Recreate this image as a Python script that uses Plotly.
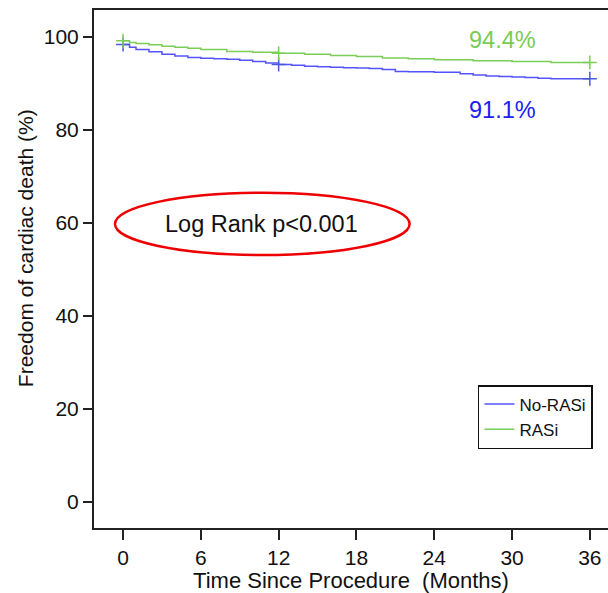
import plotly.graph_objects as go

# Data
months_no = [0, 0.5, 1, 2, 3, 4, 5, 6, 7, 8, 9, 10, 11, 12, 13, 14, 15, 16, 17, 18,
             19, 20, 21, 22, 24, 26, 27, 28, 29, 30, 31, 32, 33, 34, 36]
surv_no = [98.4, 97.8, 97.3, 96.8, 96.3, 95.9, 95.6, 95.4, 95.3, 95.2, 95.0, 94.7, 94.4, 94.1,
           93.9, 93.7, 93.6, 93.5, 93.4, 93.3, 93.2, 93.0, 92.6, 92.5, 92.4, 92.1, 91.8, 91.6,
           91.5, 91.4, 91.3, 91.1, 91.0, 91.0, 91.0]
months_ras = [0, 0.5, 1, 2, 3, 4, 5, 6, 8, 10, 12, 14, 16, 18, 20, 22, 24, 27, 30, 33, 36]
surv_ras = [99.2, 98.8, 98.6, 98.3, 98.0, 97.8, 97.6, 97.3, 96.9, 96.7, 96.5, 96.3, 96.0,
            95.8, 95.5, 95.3, 95.1, 94.9, 94.7, 94.5, 94.5]
censor_times = [0, 12, 36]
x_ticks = [0, 6, 12, 18, 24, 30, 36]
y_ticks = [0, 20, 40, 60, 80, 100]
end_labels = ["94.4%", "91.1%"]

def lookup(ts, vs, t):
    idx = max(i for i, tt in enumerate(ts) if tt <= t)
    return vs[idx]

BLUE_LINE = "#4a5ad4"
GREEN_LINE = "#7ccd58"
BLUE_TXT = "#2020f0"
GREEN_TXT = "#78cc55"
LEG_BLUE = "#2a2aff"

fig = go.Figure()
fig.add_trace(go.Scatter(x=months_no, y=surv_no, mode="lines", line=dict(color=LEG_BLUE, width=1.5, shape="hv"),
                         name="No-RASi", showlegend=True, opacity=0.8))
fig.add_trace(go.Scatter(x=months_ras, y=surv_ras, mode="lines", line=dict(color=GREEN_LINE, width=1.5, shape="hv"),
                         name="RASi", showlegend=True))
fig.add_trace(go.Scatter(x=censor_times, y=[lookup(months_no, surv_no, t) for t in censor_times], mode="markers",
                         marker=dict(symbol="cross-thin", size=10, line=dict(color=BLUE_LINE, width=1.5)),
                         showlegend=False, hoverinfo="skip"))
fig.add_trace(go.Scatter(x=censor_times, y=[lookup(months_ras, surv_ras, t) for t in censor_times], mode="markers",
                         marker=dict(symbol="cross-thin", size=10, line=dict(color=GREEN_LINE, width=1.5)),
                         showlegend=False, hoverinfo="skip"))

font_family = "Liberation Sans, Arial, sans-serif"

fig.add_annotation(x=29.3, y=99.4, text=end_labels[0], showarrow=False,
                   font=dict(color=GREEN_TXT, size=23.5, family=font_family))
fig.add_annotation(x=29.3, y=84.3, text=end_labels[1], showarrow=False,
                   font=dict(color=BLUE_TXT, size=23.5, family=font_family))

fig.add_shape(type="circle", xref="x", yref="y", x0=-0.62, x1=22.1, y0=53.1, y1=66.5,
              line=dict(color="#ee0000", width=2.5))
fig.add_annotation(x=10.7, y=59.7, text="Log Rank p<0.001", showarrow=False,
                   font=dict(color="#111111", size=23.5, family=font_family))

# y-axis title placed as rotated text
fig.add_annotation(xref="paper", yref="paper", x=-0.134, y=0.5405, xanchor="center", yanchor="middle",
                   text="Freedom of cardiac death (%)", textangle=-90, showarrow=False,
                   font=dict(color="#111111", size=21, family=font_family))

fig.update_layout(
    width=608, height=593,
    margin=dict(l=94, r=0, t=10, b=65),
    plot_bgcolor="white", paper_bgcolor="white",
    font=dict(family=font_family, color="#111111", size=21),
    legend=dict(x=0.747, y=0.276, xanchor="left", yanchor="top",
                bordercolor="#111111", borderwidth=1.5, bgcolor="white",
                font=dict(size=17, family=font_family), tracegroupgap=0,
                itemwidth=30, entrywidth=112),
    xaxis=dict(range=[-2.24, 37.4], tickvals=x_ticks, ticks="outside", ticklen=10, tickwidth=1.5,
               tickcolor="#222", showline=True, linecolor="#222", linewidth=2, mirror=True,
               showgrid=False, zeroline=False,
               title=dict(text="Time Since Procedure  (Months)", font=dict(size=22), standoff=2),
               tickfont=dict(size=21)),
    yaxis=dict(range=[-5.6, 105.8], tickvals=y_ticks, ticks="outside", ticklen=9, tickwidth=1.5,
               tickcolor="#222", showline=True, linecolor="#222", linewidth=2,
               showgrid=False, zeroline=False,
               tickfont=dict(size=21)),
)

fig.write_html("out.html")
